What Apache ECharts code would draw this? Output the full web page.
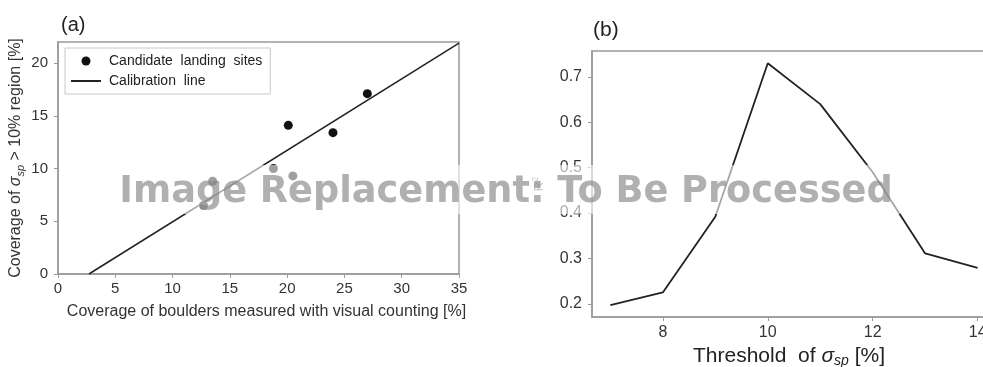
<!DOCTYPE html>
<html>
<head>
<meta charset="utf-8">
<script src="https://cdn.jsdelivr.net/npm/echarts@6/dist/echarts.min.js"></script>
<style>
html,body{margin:0;padding:0;background:#fff;}
#chart{width:983px;height:367px;}
</style>
</head>
<body>
<div id="chart"></div>
<script>
// ---- Panel (a) data ----
var siteX = [12.7, 13.5, 18.8, 20.5, 20.1, 24.0, 27.0];
var siteY = [6.5, 8.8, 10.0, 9.3, 14.1, 13.4, 17.1];
var calibX = [2.7, 35];
var calibY = [0, 21.9];
var aXTicks = [0, 5, 10, 15, 20, 25, 30, 35];
var aYTicks = [0, 5, 10, 15, 20];

// ---- Panel (b) data ----
var thrX = [7, 8, 9, 10, 11, 12, 13, 14];
var r2Y = [0.197, 0.225, 0.392, 0.730, 0.640, 0.490, 0.311, 0.279];
var bXTicks = [8, 10, 12, 14];
var bYTicks = [0.2, 0.3, 0.4, 0.5, 0.6, 0.7];

var FONT = '"Liberation Sans", Arial, sans-serif';
var AXC = '#9a9a9a';
var TXT = '#333';

function zip(a, b) { return a.map(function (v, i) { return [v, b[i]]; }); }

var chart = echarts.init(document.getElementById('chart'));
chart.setOption({
  animation: false,
  backgroundColor: '#fff',
  textStyle: { fontFamily: FONT },
  title: [
    { text: '(a)', left: 56, top: 10, textStyle: { fontSize: 20, fontWeight: 'normal', color: '#222', fontFamily: FONT } },
    { text: '(b)', left: 588, top: 15, textStyle: { fontSize: 21, fontWeight: 'normal', color: '#222', fontFamily: FONT } }
  ],
  legend: {
    left: 65, top: 48, orient: 'vertical',
    padding: [6, 8, 6, 5], itemGap: 6,
    itemWidth: 30, itemHeight: 9,
    backgroundColor: '#fff', borderColor: '#c8c8c8', borderWidth: 1,
    textStyle: { fontSize: 14, color: '#222', fontFamily: FONT, padding: [0, 0, 0, 3] },
    data: [
      { name: 'Candidate  landing  sites', icon: 'circle' },
      { name: 'Calibration  line', itemStyle: { opacity: 0 } }
    ]
  },
  grid: [
    { left: 58, top: 42, width: 401, height: 232, show: true, borderColor: AXC, borderWidth: 1.5, backgroundColor: 'transparent', containLabel: false, outerBoundsMode: 'none' },
    { left: 592, top: 51, width: 404, height: 266, show: true, borderColor: AXC, borderWidth: 1.5, backgroundColor: 'transparent', containLabel: false, outerBoundsMode: 'none' }
  ],
  xAxis: [
    {
      gridIndex: 0, type: 'value', min: 0, max: 35, interval: 5,
      axisLine: { show: true, onZero: false, lineStyle: { color: AXC, width: 1.5 } },
      axisTick: { show: true, length: 4, lineStyle: { color: AXC }, customValues: aXTicks },
      axisLabel: { fontSize: 15, color: TXT, margin: 7, customValues: aXTicks },
      splitLine: { show: false },
      name: 'Coverage of boulders measured with visual counting [%]',
      nameLocation: 'middle', nameGap: 30,
      nameTextStyle: { fontSize: 16, color: TXT, padding: [0, 0, 0, 16] }
    },
    {
      gridIndex: 1, type: 'value', min: 6.65, max: 14.35,
      axisLine: { show: true, onZero: false, lineStyle: { color: AXC, width: 1.5 } },
      axisTick: { show: true, length: 4, lineStyle: { color: AXC }, customValues: bXTicks },
      axisLabel: { fontSize: 16, color: TXT, margin: 8, customValues: bXTicks },
      splitLine: { show: false },
      name: '{n|Threshold  of }{s|σ}{sub|sp}{n| [%]}',
      nameLocation: 'middle', nameGap: 24,
      nameTextStyle: {
        color: '#222', padding: [0, 10, 0, 0],
        rich: {
          n: { fontSize: 21, color: '#222', lineHeight: 24, fontFamily: FONT },
          s: { fontSize: 21, color: '#222', lineHeight: 24, fontStyle: 'italic', fontFamily: FONT },
          sub: { fontSize: 14, color: '#222', lineHeight: 14, fontStyle: 'italic', verticalAlign: 'bottom', fontFamily: FONT }
        }
      }
    }
  ],
  yAxis: [
    {
      gridIndex: 0, type: 'value', min: 0, max: 22,
      axisLine: { show: true, onZero: false, lineStyle: { color: AXC, width: 1.5 } },
      axisTick: { show: true, length: 4, lineStyle: { color: AXC }, customValues: aYTicks },
      axisLabel: { fontSize: 15, color: TXT, margin: 10, customValues: aYTicks },
      splitLine: { show: false },
      name: '{n|Coverage of }{s|σ}{sub|sp}{n| > 10% region [%]}',
      nameLocation: 'middle', nameGap: 32,
      nameTextStyle: {
        color: TXT,
        rich: {
          n: { fontSize: 16, color: TXT, lineHeight: 20, fontFamily: FONT },
          s: { fontSize: 16, color: TXT, lineHeight: 20, fontStyle: 'italic', fontFamily: FONT },
          sub: { fontSize: 11, color: TXT, lineHeight: 12, fontStyle: 'italic', verticalAlign: 'bottom', fontFamily: FONT }
        }
      }
    },
    {
      gridIndex: 1, type: 'value', min: 0.171, max: 0.757,
      axisLine: { show: true, onZero: false, lineStyle: { color: AXC, width: 1.5 } },
      axisTick: { show: true, length: 4, lineStyle: { color: AXC }, customValues: bYTicks },
      axisLabel: { fontSize: 16, color: TXT, margin: 10, customValues: bYTicks, formatter: function (v) { return v.toFixed(1); } },
      splitLine: { show: false },
      name: '{r|R}{sup|2}',
      nameLocation: 'middle', nameGap: 45,
      nameTextStyle: {
        rich: {
          r: { fontSize: 13, color: '#777', lineHeight: 16, fontFamily: FONT },
          sup: { fontSize: 9, color: '#777', lineHeight: 9, verticalAlign: 'top', fontFamily: FONT }
        }
      }
    }
  ],
  series: [
    {
      name: 'Candidate  landing  sites', type: 'scatter', xAxisIndex: 0, yAxisIndex: 0,
      data: zip(siteX, siteY), symbol: 'circle', symbolSize: 9,
      itemStyle: { color: '#111', opacity: 1 }, z: 3
    },
    {
      name: 'Calibration  line', type: 'line', xAxisIndex: 0, yAxisIndex: 0,
      data: zip(calibX, calibY), symbol: 'none', showSymbol: false,
      lineStyle: { color: '#222', width: 1.5 }, itemStyle: { color: '#222' }, z: 2
    },
    {
      name: 'R2', type: 'line', xAxisIndex: 1, yAxisIndex: 1,
      data: zip(thrX, r2Y), symbol: 'none', showSymbol: false,
      lineStyle: { color: '#222', width: 1.8 }, z: 2
    }
  ],
  graphic: [
    {
      type: 'rect', z: 100, silent: true,
      shape: { x: 112, y: 165, width: 788, height: 49 },
      style: { fill: 'rgba(255,255,255,0.6)' }
    },
    {
      type: 'text', z: 101, silent: true,
      x: 506, y: 174,
      style: {
        text: 'Image Replacement: To Be Processed',
        font: 'bold 36.7px "DejaVu Sans", sans-serif',
        fill: 'rgba(128,128,128,0.62)',
        align: 'center', verticalAlign: 'top'
      }
    }
  ]
});
</script>
</body>
</html>
